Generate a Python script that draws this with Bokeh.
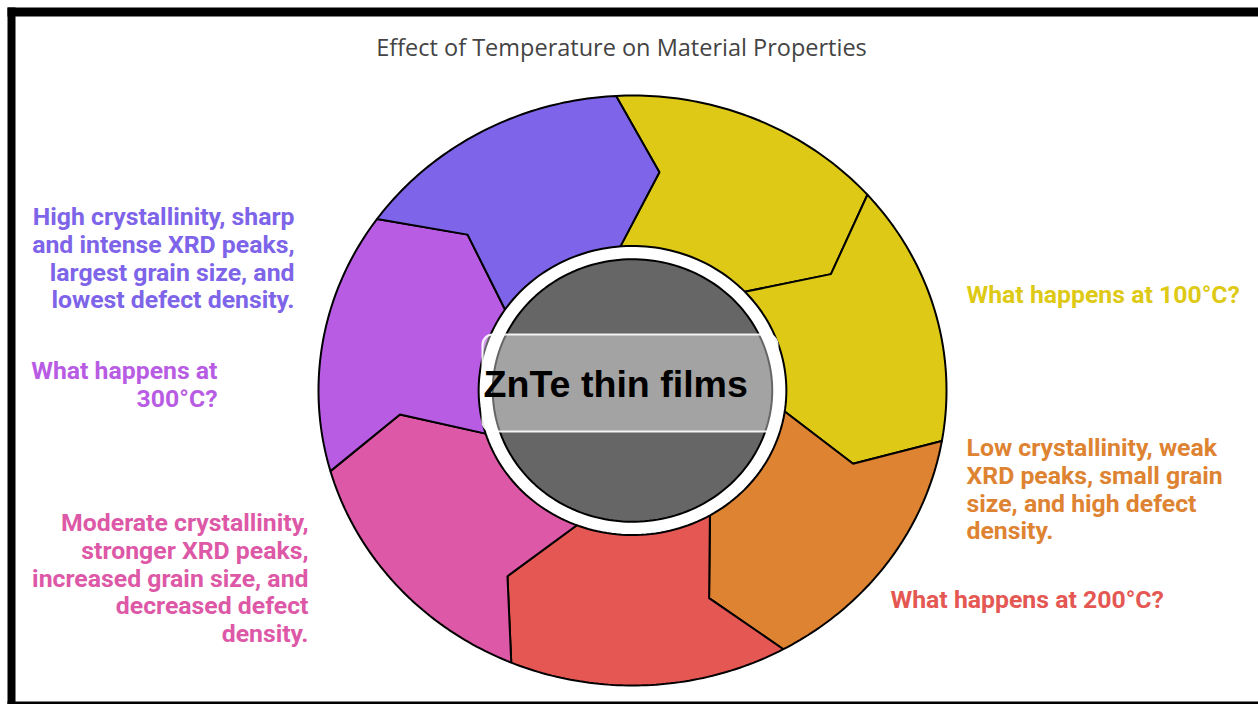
import numpy as np
from bokeh.plotting import figure
from bokeh.models import BoxAnnotation, Label, Range1d, ColumnDataSource
from bokeh.core.properties import value
from bokeh.embed import file_html
from bokeh.resources import INLINE

# ---------------- data ----------------
title_text = "Effect of Temperature on Material Properties"
center_label = "ZnTe thin films"
# ring segments, clockwise from the top
segment_colors = ["#DECA16", "#DECA16", "#DE8332", "#E45752", "#DD58A6", "#B85CE4", "#7D64E8"]

blue_lines = ["High crystallinity, sharp", "and intense XRD peaks,", "largest grain size, and", "lowest defect density."]
q300_lines = ["What happens at", "300°C?"]
pink_lines = ["Moderate crystallinity,", "stronger XRD peaks,", "increased grain size, and", "decreased defect", "density."]
q100_lines = ["What happens at 100°C?"]
orange_lines = ["Low crystallinity, weak", "XRD peaks, small grain", "size, and high defect", "density."]
q200_lines = ["What happens at 200°C?"]

# ---------------- layout ----------------
W, H = 1258, 704
cx, cy, rx, ry = 632.0, 390.0, 314.0, 295.0
theta0 = 93.0
n = len(segment_colors)
step = 360.0 / n
r_in, r_mid, r_white, r_gray = 0.47, 0.745, 0.49, 0.445
notch = 9.6

def pt(a_deg, r):
    a = np.radians(a_deg)
    return cx + rx * r * np.cos(a), cy - ry * r * np.sin(a)

p = figure(width=W, height=H, x_range=Range1d(0, W), y_range=Range1d(H, 0),
           x_axis_type=None, y_axis_type=None, output_backend="svg",
           toolbar_location=None, min_border=0)
p.grid.visible = False
p.outline_line_color = None
p.background_fill_color = "white"
p.border_fill_color = "white"

# frame
p.quad(left=[7, 7, 7], right=[15, W, W], top=[7, 7, 701], bottom=[H, 16, H],
       fill_color="black", line_color=None)

# ring segments
xs, ys = [], []
for i in range(n):
    a0 = theta0 - i * step
    a1 = a0 - step
    px, py = [], []
    for a in np.linspace(a0, a1, 60):
        x, y = pt(a, 1.0); px.append(x); py.append(y)
    for a, r in [(a1 - notch, r_mid), (a1 + 1.5, r_white), (a1 + 1.5, r_in)]:
        x, y = pt(a, r); px.append(x); py.append(y)
    for a in np.linspace(a1 + 1.5, a0 + 1.5, 40):
        x, y = pt(a, r_in); px.append(x); py.append(y)
    for a, r in [(a0 + 1.5, r_white), (a0 - notch, r_mid), (a0, 1.0)]:
        x, y = pt(a, r); px.append(x); py.append(y)
    xs.append(px); ys.append(py)
p.patches(xs=xs, ys=ys, fill_color=segment_colors, line_color="black", line_width=2)

# white ring and grey hub
ang = np.linspace(0, 360, 200)
wx, wy = pt(ang, r_white)
p.patch(wx, wy, fill_color="white", line_color="black", line_width=2)
gx, gy = pt(ang, r_gray)
p.patch(gx, gy, fill_color="#666666", line_color="black", line_width=2)

# center label box and text
box = BoxAnnotation(left=482, right=777, top=334, bottom=431, fill_color="white",
                    fill_alpha=0.4, line_color="white", line_alpha=0.9, line_width=2,
                    border_radius=10)
p.add_layout(box)
p.add_layout(Label(x=483, y=383, text=center_label, text_font="Liberation Sans",
                   text_font_style="bold", text_font_size="37.6px", text_color="black",
                   text_align="left", text_baseline="middle"))

# title
p.text(x=[621], y=[46], text=[title_text], text_font=value("Open Sans"),
       text_font_size="23.5px", text_color="#444444", text_align="center",
       text_baseline="middle")

# side texts
line_gap = 27.8
blocks_right = [(blue_lines, "#7D64E8", 294, 216), (q300_lines, "#B85CE4", 217, 370),
                (pink_lines, "#DD58A6", 308, 522)]
blocks_left = [(q100_lines, "#DECA16", 966, 294), (orange_lines, "#DE8332", 966, 447),
               (q200_lines, "#E45752", 890, 599)]

def block_source(blocks):
    d = dict(x=[], y=[], text=[], color=[])
    for lines, color, x0, y0 in blocks:
        for k, t in enumerate(lines):
            d["x"].append(x0); d["y"].append(y0 + k * line_gap)
            d["text"].append(t); d["color"].append(color)
    return ColumnDataSource(d)

p.text(x="x", y="y", text="text", text_color="color", source=block_source(blocks_right),
       text_font=value("Roboto"), text_font_style="bold", text_font_size="24.8px",
       text_align="right", text_baseline="middle")
p.text(x="x", y="y", text="text", text_color="color", source=block_source(blocks_left),
       text_font=value("Roboto"), text_font_style="bold", text_font_size="24.8px",
       text_align="left", text_baseline="middle")

open("out.html", "w").write(file_html(p, INLINE))
